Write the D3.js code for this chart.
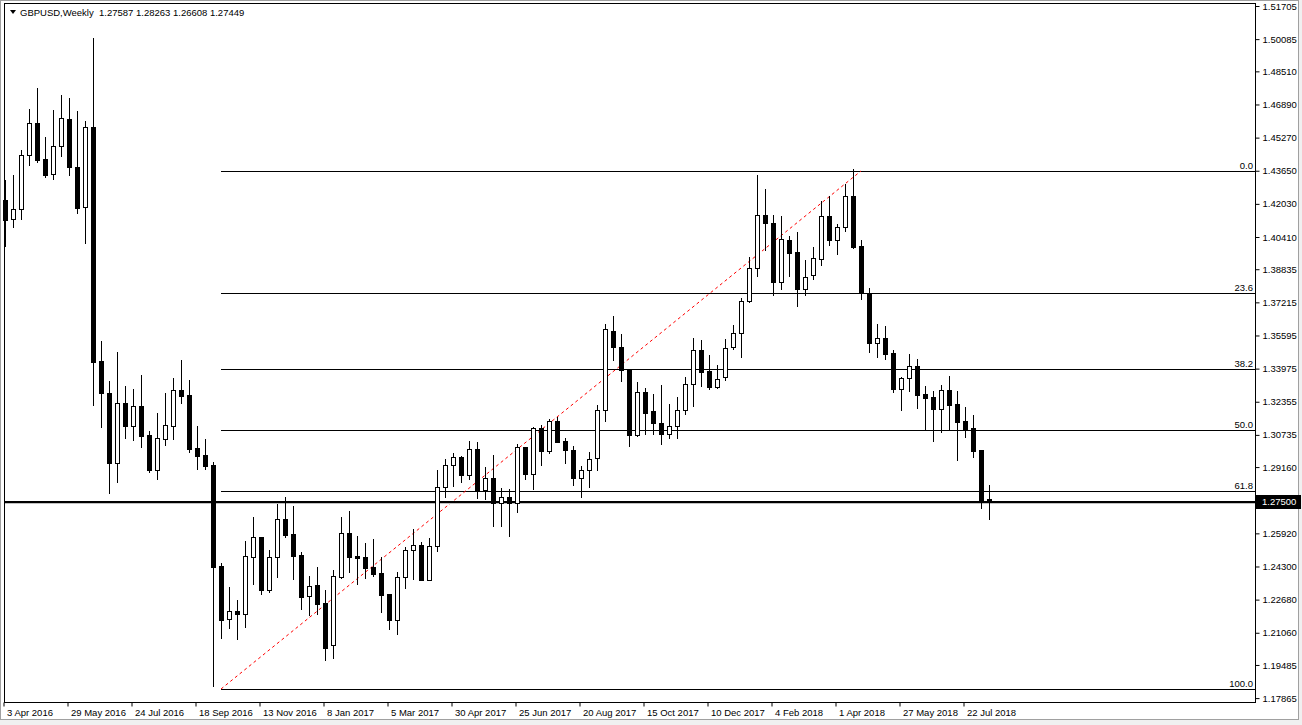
<!DOCTYPE html>
<html><head><meta charset="utf-8">
<script src="https://cdn.jsdelivr.net/npm/d3@7"></script>
<style>html,body{margin:0;padding:0;background:#fff;}svg{display:block;}</style>
</head><body>
<script>
const symbol = "GBPUSD,Weekly";
const dateLabels = ["3 Apr 2016","29 May 2016","24 Jul 2016","18 Sep 2016","13 Nov 2016","8 Jan 2017","5 Mar 2017","30 Apr 2017","25 Jun 2017","20 Aug 2017","15 Oct 2017","10 Dec 2017","4 Feb 2018","1 Apr 2018","27 May 2018","22 Jul 2018"];
const priceTicks = [1.51705,1.50085,1.48510,1.46890,1.45270,1.43650,1.42030,1.40410,1.38835,1.37215,1.35595,1.33975,1.32355,1.30735,1.29160,1.25920,1.24300,1.22680,1.21060,1.19485,1.17865];
const hLinePrice = 1.27500;
const fibLevels = [0, 23.6, 38.2, 50, 61.8, 100];
const fibHigh = 1.4364, fibLow = 1.1831;
const fibStartBar = 27, fibEndBar = 107;

const opens = [
1.4222,1.4128,1.4177,1.4441,1.4597,1.4422,1.4348,1.4485,1.4617,1.4383,
1.4186,1.4578,1.3435,1.3280,1.2934,1.3229,1.3118,1.3213,1.3073,1.2902,
1.3055,1.3118,1.3293,1.3268,1.3011,1.2975,1.2926,1.2432,1.2172,1.2211,
1.2199,1.2478,1.2573,1.2316,1.2475,1.2662,1.2589,1.2486,1.2286,1.2339,
1.2250,1.2046,1.2380,1.2594,1.2480,1.2476,1.2426,1.2398,1.2295,1.2167,
1.2377,1.2509,1.2533,1.2365,1.2529,1.2817,1.2925,1.2964,1.2879,1.3003,
1.2805,1.2861,1.2739,1.2768,1.2739,1.3013,1.2884,1.3106,1.2996,1.3140,
1.3042,1.2999,1.2864,1.2900,1.2960,1.3194,1.3580,1.3502,1.3394,1.3074,
1.3282,1.3189,1.3130,1.3076,1.3115,1.3194,1.3321,1.3487,1.3386,1.3309,
1.3356,1.3502,1.3570,1.3727,1.3888,1.4147,1.4108,1.3820,1.4025,1.3966,
1.3788,1.3854,1.3935,1.4142,1.4028,1.4089,1.4242,1.3996,1.3766,1.3524,
1.3546,1.3472,1.3299,1.3350,1.3409,1.3272,1.3257,1.3201,1.3291,1.3223,
1.3140,1.3106,1.2998,1.27587];
const highs = [
1.4320,1.4344,1.4467,1.4667,1.4770,1.4530,1.4662,1.4735,1.4721,1.4657,
1.4610,1.5014,1.3533,1.3337,1.3479,1.3312,1.3296,1.3366,1.3092,1.3180,
1.3278,1.3350,1.3440,1.3342,1.3117,1.3053,1.2939,1.2445,1.2331,1.2266,
1.2555,1.2672,1.2575,1.2511,1.2735,1.2771,1.2726,1.2502,1.2383,1.2427,
1.2315,1.2413,1.2672,1.2700,1.2579,1.2545,1.2563,1.2476,1.2297,1.2404,
1.2527,1.2612,1.2550,1.2568,1.2902,1.2957,1.2985,1.2968,1.3042,1.3039,
1.2915,1.2974,1.2812,1.2807,1.3029,1.3015,1.3112,1.3122,1.3153,1.3161,
1.3057,1.3019,1.2920,1.2988,1.3218,1.3616,1.3656,1.3567,1.3396,1.3332,
1.3304,1.3273,1.3317,1.3224,1.3257,1.3355,1.3546,1.3536,1.3463,1.3414,
1.3542,1.3611,1.3743,1.3942,1.4344,1.4276,1.4147,1.4142,1.4045,1.4066,
1.3929,1.3991,1.4216,1.4242,1.4105,1.4300,1.4374,1.4025,1.3792,1.3616,
1.3606,1.3487,1.3355,1.3467,1.3444,1.3312,1.3288,1.3316,1.3360,1.3287,
1.3208,1.3171,1.3000,1.28263];
const lows = [
1.3997,1.4090,1.4128,1.4395,1.4409,1.4336,1.4326,1.4439,1.4344,1.4157,
1.4010,1.3220,1.3113,1.2791,1.2844,1.3060,1.3048,1.3016,1.2893,1.2858,
1.3024,1.3053,1.3229,1.2990,1.2905,1.2907,1.1845,1.2082,1.2131,1.2077,
1.2135,1.2344,1.2295,1.2307,1.2380,1.2576,1.2369,1.2223,1.2194,1.2198,
1.1973,1.1982,1.2375,1.2404,1.2344,1.2375,1.2385,1.2209,1.2126,1.2101,
1.2326,1.2370,1.2362,1.2362,1.2507,1.2768,1.2825,1.2844,1.2859,1.2766,
1.2761,1.2628,1.2628,1.2580,1.2698,1.2859,1.2807,1.2928,1.2983,1.3038,
1.2934,1.2827,1.2768,1.2817,1.2902,1.3143,1.3441,1.3338,1.3021,1.3069,
1.3079,1.3079,1.3030,1.3057,1.3057,1.3177,1.3216,1.3314,1.3296,1.3304,
1.3342,1.3492,1.3453,1.3725,1.3852,1.3976,1.3759,1.3788,1.3852,1.3705,
1.3759,1.3837,1.3906,1.4003,1.3959,1.4072,1.3989,1.3739,1.3480,1.3456,
1.3446,1.3285,1.3197,1.3289,1.3206,1.3096,1.3045,1.3089,1.3096,1.2952,
1.3065,1.2967,1.2717,1.26608];
const closes = [
1.4124,1.4177,1.4441,1.4597,1.4419,1.4344,1.4485,1.4622,1.4382,1.4184,
1.4578,1.3431,1.3277,1.2934,1.3229,1.3118,1.3213,1.3068,1.2902,1.3057,
1.3120,1.3291,1.3265,1.3004,1.2970,1.2923,1.2429,1.2168,1.2211,1.2199,
1.2480,1.2573,1.2316,1.2475,1.2662,1.2585,1.2481,1.2282,1.2334,1.2248,
1.2031,1.2382,1.2594,1.2478,1.2473,1.2424,1.2395,1.2292,1.2167,1.2377,
1.2509,1.2533,1.2365,1.2529,1.2817,1.2925,1.2964,1.2879,1.3003,1.2805,
1.2861,1.2739,1.2768,1.2739,1.3013,1.2884,1.3106,1.2996,1.3140,1.3040,
1.2999,1.2864,1.2900,1.2957,1.3195,1.3590,1.3502,1.3389,1.3074,1.3282,
1.3182,1.3130,1.3076,1.3115,1.3194,1.3321,1.3487,1.3382,1.3309,1.3345,
1.3497,1.3570,1.3727,1.3888,1.4147,1.4108,1.3820,1.4030,1.3964,1.3788,
1.3847,1.3937,1.4142,1.4028,1.4089,1.4242,1.3994,1.3766,1.3524,1.3546,
1.3470,1.3299,1.3350,1.3409,1.3270,1.3255,1.3201,1.3291,1.3221,1.3138,
1.3104,1.2996,1.2747,1.27449];

const W = 1302, H = 725;
const plot = {left: 4, top: 3, right: 1255, bottom: 702};
const FONT = "'Liberation Sans', Arial, sans-serif";

const bars = opens.map((o, i) => ({i, o, h: highs[i], l: lows[i], c: closes[i]}));

const svg = d3.select("body").append("svg").attr("width", W).attr("height", H)
  .style("font-family", FONT);

// window frame
svg.append("rect").attr("width", W).attr("height", H).attr("fill", "#f0f0f0");
svg.append("rect").attr("x", 0).attr("y", 0).attr("width", W - 3).attr("height", H - 5).attr("fill", "#a0a0a0");
svg.append("rect").attr("x", 1).attr("y", 1).attr("width", W - 5).attr("height", H - 7).attr("fill", "#fff");

const x = d3.scaleLinear().domain([0, bars.length - 1]).range([5, 5 + 8 * (bars.length - 1)]);
const y = d3.scaleLinear().domain([1.17865, 1.51705]).range([698.1, 6]);

// plot border
svg.append("rect").attr("x", plot.left + 0.5).attr("y", plot.top + 0.5)
  .attr("width", plot.right - plot.left).attr("height", plot.bottom - plot.top)
  .attr("fill", "none").attr("stroke", "#000");

const g = svg.append("g");

// fibonacci levels
const fibG = g.append("g");
fibLevels.forEach(lv => {
  const p = fibHigh - lv / 100 * (fibHigh - fibLow);
  const yy = Math.round(y(p)) + 0.5;
  fibG.append("line").attr("x1", x(fibStartBar)).attr("x2", plot.right).attr("y1", yy).attr("y2", yy)
    .attr("stroke", "#000").attr("stroke-width", 1);
  fibG.append("text").attr("x", plot.right - 2).attr("y", yy - 2.5).attr("text-anchor", "end")
    .attr("font-size", "9.5px").attr("fill", "#000").text(lv.toFixed(1));
});
fibG.append("line")
  .attr("x1", x(fibStartBar)).attr("y1", y(fibLow))
  .attr("x2", x(fibEndBar)).attr("y2", y(fibHigh))
  .attr("stroke", "#ff0000").attr("stroke-width", 1).attr("stroke-dasharray", "3,3");

// horizontal line
const hy = Math.round(y(hLinePrice));
g.append("rect").attr("x", plot.left + 1).attr("y", hy + 2).attr("width", plot.right - plot.left - 1).attr("height", 1).attr("fill", "#c0c0c0");
g.append("rect").attr("x", plot.left + 1).attr("y", hy).attr("width", plot.right - plot.left - 1).attr("height", 2).attr("fill", "#000");

// candles
const cg = g.append("g");
cg.selectAll("line.wick").data(bars).join("line").attr("class", "wick")
  .attr("x1", d => Math.round(x(d.i)) + 0.5).attr("x2", d => Math.round(x(d.i)) + 0.5)
  .attr("y1", d => Math.round(y(d.h))).attr("y2", d => Math.round(y(d.l)) + 1)
  .attr("stroke", "#000").attr("stroke-width", 1);
cg.selectAll("rect.body").data(bars).join("rect").attr("class", "body")
  .each(function(d) {
    const top = Math.round(y(Math.max(d.o, d.c)));
    const bot = Math.round(y(Math.min(d.o, d.c)));
    const cx = Math.round(x(d.i));
    const sel = d3.select(this);
    if (d.c >= d.o) {
      sel.attr("x", cx - 2 + 0.5).attr("y", top + 0.5).attr("width", 4).attr("height", Math.max(bot - top, 0))
        .attr("fill", "#fff").attr("stroke", "#000").attr("stroke-width", 1);
    } else {
      sel.attr("x", cx - 2).attr("y", top).attr("width", 5).attr("height", Math.max(bot - top, 1) + 1)
        .attr("fill", "#000");
    }
  });

// right axis
const yAxis = d3.axisRight(y).tickValues(priceTicks).tickSize(4).tickPadding(3)
  .tickFormat(d3.format(".5f"));
const ya = svg.append("g").attr("transform", `translate(${plot.right + 0.5},0)`).call(yAxis);
ya.select(".domain").remove();
ya.selectAll("line").attr("stroke", "#000");
ya.selectAll("text").attr("font-size", "9.5px").attr("fill", "#000").attr("font-family", FONT);

// current-line price label
svg.append("rect").attr("x", plot.right + 1).attr("y", hy - 6).attr("width", 45).attr("height", 14).attr("fill", "#000");
svg.append("text").attr("x", plot.right + 7).attr("y", hy + 1).attr("dy", "0.32em")
  .attr("font-size", "9.5px").attr("fill", "#fff").text(d3.format(".5f")(hLinePrice));

// bottom axis
const tickIdx = dateLabels.map((_, k) => k * 8);
const xAxis = d3.axisBottom(x).tickValues(tickIdx).tickSize(4).tickFormat((d, k) => dateLabels[k]);
const xa = svg.append("g").attr("transform", `translate(-1.5,${plot.bottom + 0.5})`).call(xAxis);
xa.select(".domain").remove();
xa.selectAll("line").attr("stroke", "#000");
xa.selectAll("text").attr("text-anchor", "start").attr("x", 3).attr("y", 7)
  .attr("font-size", "9.5px").attr("fill", "#000").attr("font-family", FONT);

// title
const last = bars[bars.length - 1];
svg.append("path").attr("d", "M10,10 L16,10 L13,14 Z").attr("fill", "#000");
svg.append("text").attr("x", 20).attr("y", 16).attr("font-size", "9.5px").attr("fill", "#000")
  .attr("xml:space", "preserve")
  .text(`${symbol}  ${[last.o, last.h, last.l, last.c].map(d3.format(".5f")).join(" ")}`);
</script>
</body></html>
